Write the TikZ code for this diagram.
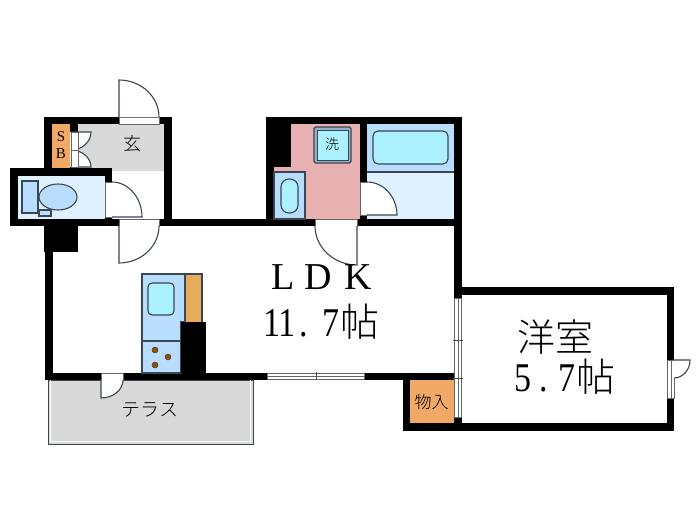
\documentclass[tikz,border=0pt]{standalone}
\usepackage{fontspec}
\usepackage{graphicx}
\usetikzlibrary{calc}
\setmainfont{Liberation Serif}
\newfontfamily\jpfont{Noto Sans CJK JP Light}
\definecolor{WallBlack}{HTML}{000000}
\definecolor{LineGrey}{HTML}{3C4650}
\definecolor{FloorGrey}{HTML}{D9D9D9}
\definecolor{BathFloor}{HTML}{DFF1FF}
\definecolor{FixtureBlue}{HTML}{B9DDFF}
\definecolor{WaterCyan}{HTML}{ACF1FF}
\definecolor{WashPink}{HTML}{E8B1B1}
\definecolor{StoreOrange}{HTML}{F2A966}
\definecolor{CounterOrange}{HTML}{E6AC5C}
\definecolor{BurnerBrown}{HTML}{9A4A00}
\tikzset{
    wall/.style={fill=WallBlack},
    fixture/.style={draw=LineGrey, line width=1.1pt},
    opening/.style={draw=black!60, fill=white, line width=0.6pt},
    doorleaf/.style={draw=LineGrey, fill=white, line width=1.1pt},
    plan/.style={font=\jpfont, inner sep=0pt, text=black},
}
\begin{document}
\begin{tikzpicture}[x=1pt, y=-1pt]
    \useasboundingbox (0,0) rectangle (700,525);
    \fill[white] (0,0) rectangle (700,525);
    % floors
    \fill[FloorGrey] (78,124) rectangle (164,171);
    \fill[StoreOrange] (52,124) rectangle (70,168);
    \fill[StoreOrange] (410,380) rectangle (454,423);
    \fill[BathFloor] (18,176) rectangle (105,219);
    \fill[BathFloor] (367,172) rectangle (454,219);
    \fill[FixtureBlue] (367,124) rectangle (454,172);
    \fill[WashPink] (291,124) -- (360,124) -- (360,219) -- (305,219) -- (305,172) -- (274,172) -- (274,167) -- (291,167) -- cycle;
    \draw[LineGrey, fill=FloorGrey, line width=1pt] (48,380) rectangle (253,444);
    \draw[white, line width=0.8pt] (50.5,380) -- (50.5,441.5) -- (250.5,441.5) -- (250.5,380);
    % walls
    \foreach \xa/\ya/\xb/\yb in {
        44/117/119/124, 159/117/172/124, 44/117/52/168, 70/124/78/132, 70/167/78/176,
        164/117/172/226, 10/168/112/176, 10/168/18/226, 105/168/112/182, 105/217/112/226,
        10/219/119/226, 159/219/315/226, 357/219/462/226,
        44/226/78/252, 45/226/53/380, 45/373/101/380, 123/373/267/380, 364/373/454/380,
        181/322/206/373,
        266/117/462/124, 266/117/274/226, 266/117/291/167, 360/124/367/182, 360/215/367/226,
        454/117/462/298, 454/287/674/295, 454/417/462/431, 667/287/674/360, 667/398/674/431,
        403/373/410/431, 403/423/674/431} {
        \fill[wall] (\xa,\ya) rectangle (\xb,\yb);
    }
    % wall openings
    \foreach \xa/\ya/\xb/\yb in {
        119/117/159/124, 119/219/159/226, 315/219/357/226, 101/373/123/380,
        105/182/112/217, 360/182/367/215, 667/360/674/398} {
        \draw[opening] (\xa,\ya) rectangle (\xb,\yb);
    }
    % doors: hinge, end of leaf, end of arc
    \foreach \hx/\hy/\ax/\ay/\bx/\by in {
        119/117/119/80/159/117, 119/226/119/263/159/226, 112/217/142/217/112/182,
        71/132/91/132/71/150, 71/167/91/167/71/150, 367/215/397/215/367/182,
        357/226/357/265/315/226, 101/380/101/398/123/380, 674/360/690/360/674/378} {
        \draw[doorleaf] (\hx,\hy) -- (\ax,\ay)
            .. controls ($(\ax,\ay)+0.55*(\bx,\by)-0.55*(\hx,\hy)$) and ($(\bx,\by)+0.55*(\ax,\ay)-0.55*(\hx,\hy)$) .. (\bx,\by);
    }
    \foreach \ya/\yb in {132/150, 150/167} {
        \draw[opening] (71,\ya) rectangle (78,\yb);
    }
    % windows
    \foreach \xa/\xb in {267/316, 316/364} {
        \draw[opening, fill=white] (\xa,373.5) rectangle (\xb,379.5);
        \draw[black!60, line width=0.6pt] (\xa,376.5) -- (\xb,376.5);
    }
    \foreach \ya/\yb in {298/340, 340/378, 378/417} {
        \draw[opening] (454.5,\ya) rectangle (461.5,\yb);
        \draw[black!60, line width=0.6pt] (458,\ya) -- (458,\yb);
    }
    \draw[black!70, line width=0.6pt] (316,372) -- (316,380) (453,340) -- (463,340) (453,378) -- (463,378);
    \draw[black!60, line width=0.6pt] (671,360) -- (671,398);
    % toilet
    \draw[fixture, fill=FixtureBlue] (22,181) rectangle (38,213);
    \draw[fixture, fill=FixtureBlue] (39,210) rectangle (51,216);
    \draw[fixture, fill=FixtureBlue] (58,197) ellipse [x radius=19, y radius=13];
    % washroom
    \draw[fixture, fill=FixtureBlue] (274,172) rectangle (305,219);
    \draw[fixture, fill=WaterCyan, rounded corners=8pt] (281,179) rectangle (298,213);
    \draw[fixture, fill=FixtureBlue!70!LineGrey, rounded corners=1.5pt] (314,127) rectangle (351,163);
    \draw[fixture, fill=WaterCyan, line width=0.6pt] (317,130) rectangle (348,160);
    % bath
    \draw[fixture] (367,172) -- (454,172);
    \draw[fixture, fill=WaterCyan, rounded corners=5pt] (373,131) rectangle (448,164);
    % kitchen
    \draw[fixture, fill=CounterOrange] (185,274) rectangle (202,325);
    \draw[fixture, fill=FixtureBlue] (142,274) -- (185,274) -- (185,322) -- (181,322) -- (181,373) -- (142,373) -- cycle;
    \draw[fixture] (142,341) -- (181,341);
    \draw[fixture, fill=WaterCyan, rounded corners=4pt] (148,283) rectangle (174,315);
    \foreach \bx/\by in {155/350, 168/357, 155/365} {
        \draw[fill=BurnerBrown, draw=LineGrey, line width=0.5pt] (\bx,\by) circle (3);
    }
    \fill[wall] (181,322) rectangle (206,373);
    % labels
    \node[plan, font=\fontsize{15}{15}\selectfont] (labelS) at (61,137) {S};
    \node[plan, font=\fontsize{15}{15}\selectfont] (labelB) at (61,154) {B};
    \node[plan, font=\jpfont\fontsize{18}{18}\selectfont] (entry) at (132,144) {玄};
    \node[plan, font=\jpfont\fontsize{14}{14}\selectfont] (washer) at (332,144) {洗};
    \node[plan, font=\jpfont\fontsize{19}{19}\selectfont] (terrace) at (150,410) {テラス};
    \node[plan, font=\jpfont\fontsize{17}{17}\selectfont] (store) at (431.5,402) {物入};
    \node[plan, font=\fontsize{38}{38}\selectfont] (ldk) at (322,277) {L\hspace{9pt}D\hspace{13pt}K};
    \node[plan, anchor=west, font=\fontsize{34}{34}\selectfont] (ldksize) at (263,322) {\scalebox{1}[1.2]{11\hspace{4pt}.\hspace{14pt}7}\hspace{1pt}{\jpfont\fontsize{39}{39}\selectfont 帖}};
    \node[plan, font=\jpfont\fontsize{38}{38}\selectfont] (western) at (555,337) {洋室};
    \node[plan, anchor=west, font=\fontsize{34}{34}\selectfont] (westernsize) at (514,377) {\scalebox{1}[1.2]{5\hspace{8pt}.\hspace{11pt}7}\hspace{1pt}{\jpfont\fontsize{39}{39}\selectfont 帖}};
\end{tikzpicture}
\end{document}
